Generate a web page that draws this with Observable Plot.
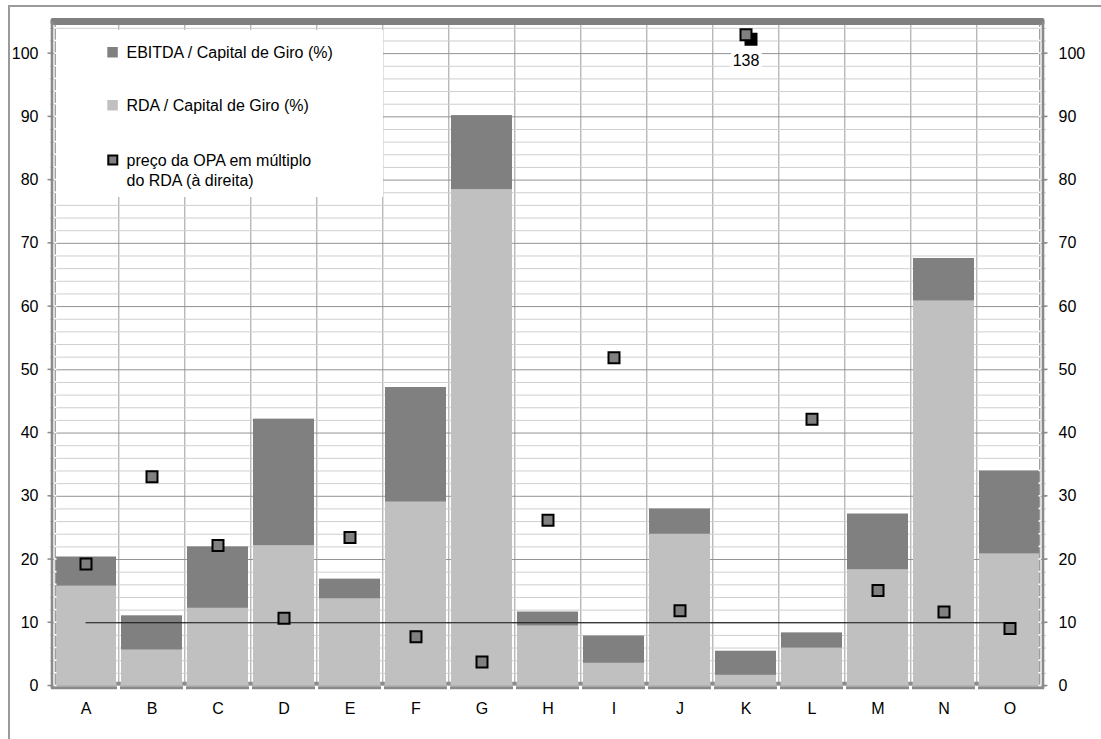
<!DOCTYPE html>
<html>
<head>
<meta charset="utf-8">
<script src="https://cdn.jsdelivr.net/npm/d3@7"></script>
<script src="https://cdn.jsdelivr.net/npm/@observablehq/plot@0.6"></script>
<style>
  html, body { margin: 0; padding: 0; background: #fff; }
  #chart svg { display: block; }
</style>
</head>
<body>
<div id="chart"></div>
<script>
// Companies on the x axis
const categories = ["A", "B", "C", "D", "E", "F", "G", "H", "I", "J", "K", "L", "M", "N", "O"];
// EBITDA / working capital (%), left axis
const ebitdaPct = [20.4, 11.1, 22.0, 42.2, 16.9, 47.2, 90.2, 11.7, 7.9, 28.0, 5.5, 8.4, 27.2, 67.6, 34.0];
// RDA / working capital (%), left axis
const rdaPct = [15.8, 5.7, 12.3, 22.2, 13.8, 29.1, 78.5, 9.5, 3.6, 24.0, 1.7, 6.0, 18.4, 60.9, 20.9];
// Tender offer price as a multiple of RDA, right axis
const offerMultiple = [19.3, 33.1, 22.2, 10.7, 23.5, 7.8, 3.8, 26.2, 51.9, 11.9, 138, 42.2, 15.1, 11.7, 9.1];
// Axis ticks and reference level
const yTicks = [0, 10, 20, 30, 40, 50, 60, 70, 80, 90, 100];
const yMax = 105;
const markerCeiling = 103;   // points above the axis are pinned here and labelled
const referenceMultiple = 10;

const legendItems = [
  {label: ["EBITDA / Capital de Giro (%)"], kind: "ebitda"},
  {label: ["RDA / Capital de Giro (%)"], kind: "rda"},
  {label: ["preço da OPA em múltiplo", "do RDA (à direita)"], kind: "offer"}
];

(function () {
  const COLORS = {ebitda: "#808080", rda: "#c0c0c0", marker: "#808080", axis: "#8a8a8a"};

  const rows = categories.map((c, i) => ({
    category: c, ebitda: ebitdaPct[i], rda: rdaPct[i], multiple: offerMultiple[i]
  }));
  const offScale = rows.filter(d => d.multiple > markerCeiling);
  const minorTicks = d3.range(0, yMax, 2).filter(v => v % 10 !== 0);
  const refLine = [
    {category: categories[0], value: referenceMultiple},
    {category: categories[categories.length - 1], value: referenceMultiple}
  ];
  const pinned = d => Math.min(d.multiple, markerCeiling);

  const width = 1101, height = 739;
  const marginLeft = 50, marginRight = 55, marginTop = 21.5, marginBottom = 53.5;
  const step = (width - marginLeft - marginRight) / categories.length;
  const FONT = "'Liberation Sans', Arial, Helvetica, sans-serif";
  const FS = 16;

  const chart = Plot.plot({
    width, height, marginLeft, marginRight, marginTop, marginBottom,
    style: {fontFamily: FONT, fontSize: FS + "px", color: "#000", background: "#fff"},
    x: {type: "band", domain: categories, paddingInner: 0.07, paddingOuter: 0.035,
        tickSize: 0, tickPadding: 17, label: null},
    y: {domain: [0, yMax], ticks: yTicks, tickSize: 0, tickPadding: 12, axis: "both", label: null},
    marks: [
      // gridlines
      Plot.ruleX(categories.slice(1), {dx: -step / 2, stroke: "#9c9c9c"}),
      Plot.ruleY(minorTicks, {stroke: "#cfcfcf"}),
      Plot.ruleY(yTicks, {stroke: "#939393"}),
      // overlapping bars: EBITDA behind, RDA in front
      Plot.barY(rows, {x: "category", y: "ebitda", fill: COLORS.ebitda}),
      Plot.barY(rows, {x: "category", y: "rda", fill: COLORS.rda}),
      // reference multiple
      Plot.line(refLine, {x: "category", y: "value", stroke: "#111", strokeWidth: 1.2}),
      // offer multiples
      Plot.dot(offScale, {x: "category", y: pinned, dx: 5, dy: 4.5, symbol: "square", r: 6.2,
        fill: "#000", stroke: "#000", strokeWidth: 2}),
      Plot.dot(rows, {x: "category", y: pinned, symbol: "square", r: 6.2,
        fill: COLORS.marker, stroke: "#000", strokeWidth: 2}),
      Plot.text(offScale, {x: "category", y: pinned, dy: 26, text: d => String(d.multiple),
        fill: "#000", stroke: "#fff", strokeWidth: 8, fontSize: FS})
    ]
  });

  document.getElementById("chart").appendChild(chart);

  // Frame ornaments: chart border, thick top edge, double side axes, bottom axis
  const svg = d3.select(chart);
  const xs = chart.scale("x"), ys = chart.scale("y");
  const bw = xs.bandwidth;
  const stepPx = xs.apply(categories[1]) - xs.apply(categories[0]);
  const gap = stepPx - bw;
  const leftX = xs.apply(categories[0]) - gap / 2;
  const rightX = xs.apply(categories[categories.length - 1]) + bw + gap / 2;
  const topY = ys.apply(yMax), bottomY = ys.apply(0);
  const boundaries = categories.slice(1).map(c => xs.apply(c) - gap / 2);

  const g = svg.append("g").attr("fill", "none");
  g.append("rect").attr("x", 9).attr("y", 6).attr("width", 1300).attr("height", 900)
    .attr("stroke", "#9a9a9a").attr("stroke-width", 2);

  // top edge
  g.append("rect").attr("x", leftX - 2).attr("y", topY - 3.5).attr("width", rightX - leftX + 4)
    .attr("height", 7).attr("rx", 2).attr("fill", COLORS.ebitda);

  // side axes (solid outer line, dashed inner line)
  for (const [outer, inner, dir] of [[leftX - 0.5, leftX + 2.8, -1], [rightX + 0.5, rightX - 2.8, 1]]) {
    g.append("line").attr("x1", outer).attr("x2", outer).attr("y1", topY).attr("y2", bottomY + 3)
      .attr("stroke", COLORS.axis).attr("stroke-width", 2.6);
    g.append("line").attr("x1", inner).attr("x2", inner).attr("y1", topY + 3).attr("y2", bottomY)
      .attr("stroke", "#9c9c9c").attr("stroke-width", 1.3);
    g.selectAll(null).data(d3.range(0, yMax, 2)).join("line")
      .attr("x1", inner - 1.2).attr("x2", inner + 1.2)
      .attr("y1", v => ys.apply(v)).attr("y2", v => ys.apply(v))
      .attr("stroke", "#fff").attr("stroke-width", 1.6);
    g.selectAll(null).data(yTicks).join("line")
      .attr("x1", outer + dir * 1).attr("x2", outer + dir * 4.5)
      .attr("y1", v => ys.apply(v)).attr("y2", v => ys.apply(v))
      .attr("stroke", COLORS.axis).attr("stroke-width", 1.5);
  }

  // bottom axis with breaks at the category boundaries
  g.append("line").attr("x1", leftX - 1.5).attr("x2", rightX + 1.5)
    .attr("y1", bottomY + 2.3).attr("y2", bottomY + 2.3)
    .attr("stroke", COLORS.axis).attr("stroke-width", 2.8);
  g.selectAll(null).data(boundaries).join("rect")
    .attr("x", b => b - 1.5).attr("y", bottomY + 0.5).attr("width", 3).attr("height", 4)
    .attr("fill", "#fff");
  g.selectAll(null).data(boundaries).join("rect")
    .attr("x", b => b - 2.3).attr("y", bottomY - 3.8).attr("width", 4.6).attr("height", 3.6)
    .attr("fill", "#8c8c8c");

  // Legend panel inside the plot
  const lg = svg.append("g").attr("font-family", FONT).attr("font-size", FS)
    .attr("text-anchor", "start").attr("fill", "#000");
  lg.append("rect").attr("x", leftX + 3.5).attr("y", 30).attr("width", 327).attr("height", 167)
    .attr("fill", "#fff");
  const rowY = [52.3, 105.3, 160];
  legendItems.forEach((item, i) => {
    const cy = rowY[i];
    if (item.kind === "offer") {
      lg.append("rect").attr("x", 108.3).attr("y", cy - 4.5).attr("width", 9).attr("height", 9)
        .attr("fill", COLORS.marker).attr("stroke", "#000").attr("stroke-width", 2);
    } else {
      lg.append("rect").attr("x", 107.3).attr("y", cy - 5.3).attr("width", 10.5).attr("height", 10.5)
        .attr("fill", COLORS[item.kind]);
    }
    item.label.forEach((line, j) => {
      lg.append("text").attr("x", 126.5).attr("y", cy + j * 20).attr("dy", "0.36em").text(line);
    });
  });
})();
</script>
</body>
</html>
